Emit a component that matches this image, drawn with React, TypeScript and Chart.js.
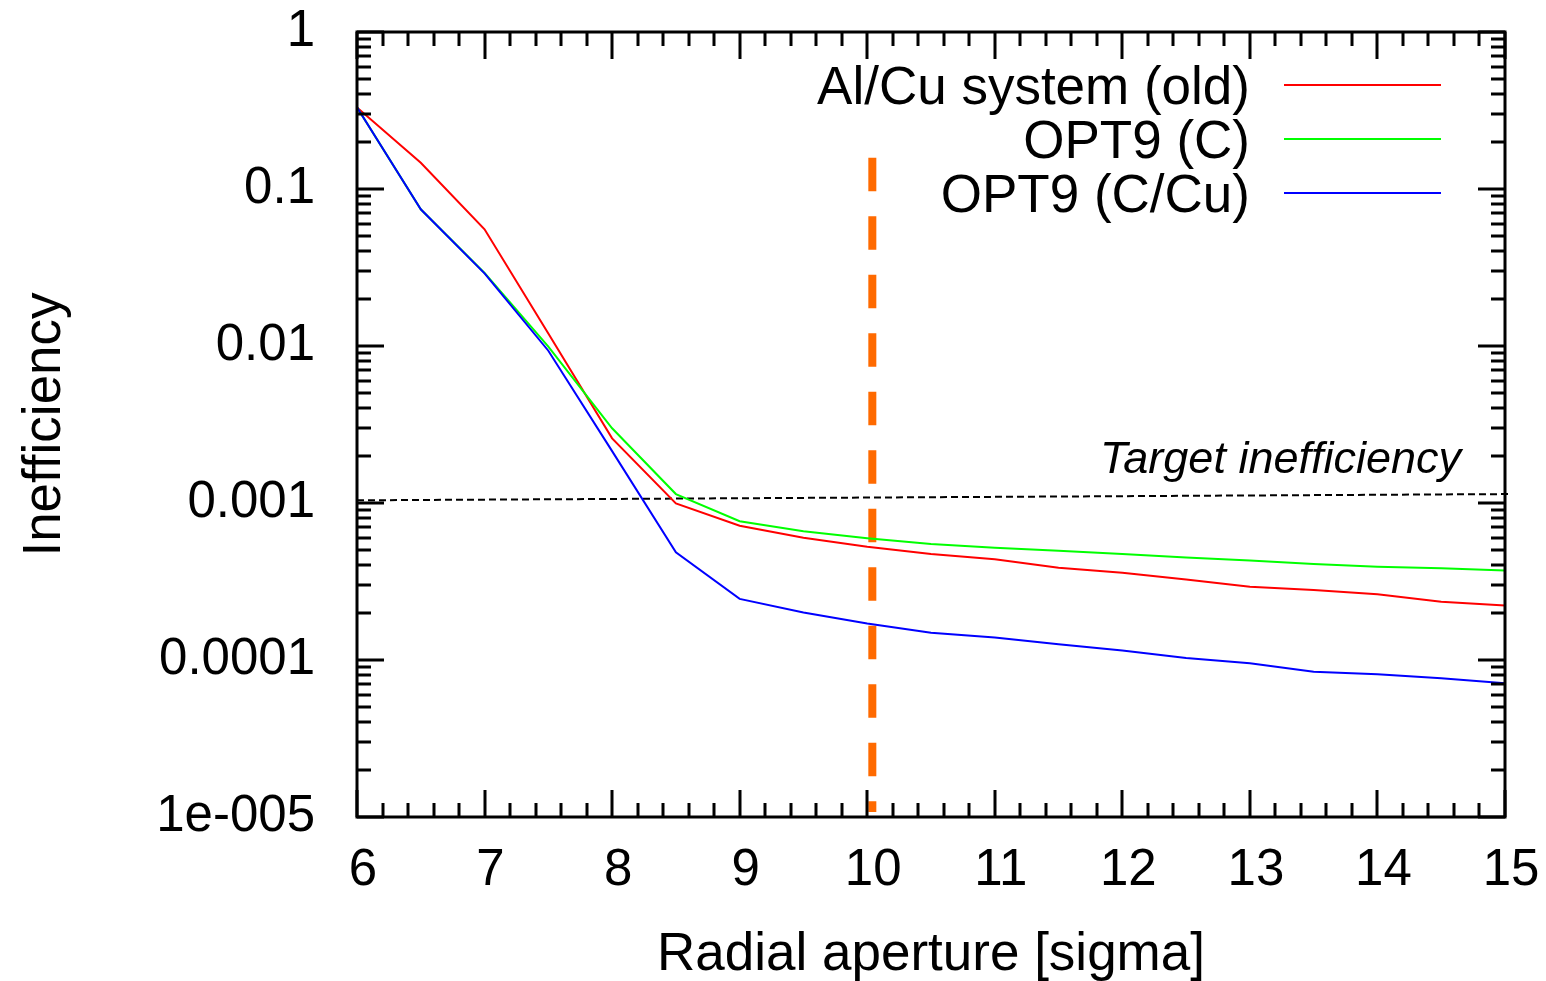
import React, { useEffect, useRef } from "react";
import { Chart, registerables } from "chart.js";

Chart.register(...registerables);

// ---------- data ----------
const radialAperture = [6, 6.5, 7, 7.5, 8, 8.5, 9, 9.5, 10, 10.5, 11, 11.5, 12, 12.5, 13, 13.5, 14, 14.5, 15];

const alCuOld = [0.331, 0.147, 0.0554, 0.012, 0.00258, 0.000995, 0.000717, 0.000601, 0.000527, 0.000473, 0.000438, 0.000387, 0.00036, 0.000326, 0.000293, 0.000279, 0.000262, 0.000235, 0.000222];
const opt9C = [0.331, 0.0743, 0.0292, 0.0099, 0.00299, 0.00114, 0.000765, 0.00066, 0.000596, 0.000548, 0.000519, 0.000497, 0.000473, 0.00045, 0.00043, 0.000409, 0.000393, 0.000384, 0.000371];
const opt9CCu = [0.331, 0.0743, 0.029, 0.00933, 0.00214, 0.000485, 0.000245, 0.000201, 0.000171, 0.000149, 0.000139, 0.000126, 0.000115, 0.000103, 0.0000953, 0.0000843, 0.0000811, 0.0000764, 0.0000711];

const seriesLabels = ["Al/Cu system (old)", "OPT9 (C)", "OPT9 (C/Cu)"];

// target inefficiency reference line (end points)
const targetX = [6, 15.03];
const targetY = [0.00104, 0.00114];
const targetLabel = "Target inefficiency";

// vertical aperture marker (end points, top first)
const apertureX = [10.04, 10.04];
const apertureY = [0.158, 1.076e-5];

// axes
const xTicks = [6, 7, 8, 9, 10, 11, 12, 13, 14, 15];
const yTickValues = [1, 0.1, 0.01, 0.001, 0.0001, 0.00001];
const yTickLabels = ["1", "0.1", "0.01", "0.001", "0.0001", "1e-005"];
const xTitle = "Radial aperture [sigma]";
const yTitle = "Inefficiency";

const FONT = '"Liberation Sans", Arial, Helvetica, sans-serif';
const COLORS = ["#ff0000", "#00ff00", "#0000ff"];

const framePlugin = {
  id: "gnuplotFrame",
  afterDatasetsDraw(chart: any) {
    const { ctx, chartArea: a, scales } = chart;
    const x = scales.x;
    const y = scales.y;
    ctx.save();
    ctx.strokeStyle = "#000";
    ctx.lineWidth = 3;
    ctx.lineCap = "butt";
    ctx.beginPath();
    // x ticks (major every 1, minor every 0.2), on bottom and top, inward
    for (let i = 0; i <= 45; i++) {
      const v = xTicks[0] + i * 0.2;
      const px = Math.round(x.getPixelForValue(v));
      const len = i % 5 === 0 ? 27 : 14;
      ctx.moveTo(px, a.bottom);
      ctx.lineTo(px, a.bottom - len);
      ctx.moveTo(px, a.top);
      ctx.lineTo(px, a.top + len);
    }
    // y ticks, log: major per decade, minor 2..9
    for (let e = -5; e <= 0; e++) {
      const d = Math.pow(10, e);
      const mults = e < 0 ? [1, 2, 3, 4, 5, 6, 7, 8, 9] : [1];
      for (const m of mults) {
        const py = Math.round(y.getPixelForValue(m * d));
        const len = m === 1 ? 27 : 14;
        ctx.moveTo(a.left, py);
        ctx.lineTo(a.left + len, py);
        ctx.moveTo(a.right, py);
        ctx.lineTo(a.right - len, py);
      }
    }
    ctx.stroke();
    ctx.lineWidth = 3;
    ctx.strokeRect(a.left, a.top, a.right - a.left, a.bottom - a.top);
    ctx.restore();
  },
  afterDraw(chart: any) {
    const { ctx, chartArea: a } = chart;
    ctx.save();
    // legend (top-right, text right-aligned, sample to the right)
    const fs = 53;
    ctx.font = `${fs}px ${FONT}`;
    ctx.textAlign = "right";
    ctx.textBaseline = "alphabetic";
    ctx.fillStyle = "#000";
    const rowY0 = a.top + 53;
    const rowGap = 54;
    const textRight = a.right - 255;
    for (let i = 0; i < 3; i++) {
      const ry = rowY0 + i * rowGap;
      ctx.fillText(chart.data.datasets[i].label, textRight, ry + 0.358 * fs);
      ctx.strokeStyle = COLORS[i];
      ctx.lineWidth = 2;
      ctx.beginPath();
      ctx.moveTo(textRight + 34, ry);
      ctx.lineTo(textRight + 191, ry);
      ctx.stroke();
    }
    // target label
    ctx.font = `italic 45px ${FONT}`;
    ctx.textAlign = "right";
    ctx.fillStyle = "#000";
    ctx.fillText(targetLabel, a.right - 44, 473);
    ctx.restore();
  },
};

export default function App() {
  const canvasRef = useRef<HTMLCanvasElement | null>(null);

  useEffect(() => {
    if (!canvasRef.current) return;
    const mk = (ys: number[]) => radialAperture.map((xv, i) => ({ x: xv, y: ys[i] }));
    const chart = new Chart(canvasRef.current, {
      type: "line",
      data: {
        datasets: [
          { label: seriesLabels[0], data: mk(alCuOld), borderColor: COLORS[0], borderWidth: 2, pointRadius: 0, tension: 0, order: 2 },
          { label: seriesLabels[1], data: mk(opt9C), borderColor: COLORS[1], borderWidth: 2, pointRadius: 0, tension: 0, order: 1 },
          { label: seriesLabels[2], data: mk(opt9CCu), borderColor: COLORS[2], borderWidth: 2, pointRadius: 0, tension: 0, order: 0 },
          {
            label: targetLabel,
            data: targetX.map((xv, i) => ({ x: xv, y: targetY[i] })),
            borderColor: "#000",
            borderWidth: 2,
            borderDash: [7, 4],
            pointRadius: 0,
            clip: false,
            order: 3,
          },
          {
            label: "aperture",
            data: apertureX.map((xv, i) => ({ x: xv, y: apertureY[i] })),
            borderColor: "#ff6a00",
            borderWidth: 8,
            borderDash: [33.5, 25],
            borderCapStyle: "butt",
            pointRadius: 0,
            order: 4,
          },
        ] as any,
      },
      options: {
        animation: false,
        responsive: true,
        maintainAspectRatio: false,
        layout: { padding: { top: 32, right: 41, left: 0, bottom: 0 } },
        plugins: { legend: { display: false }, tooltip: { enabled: false } },
        scales: {
          x: {
            type: "linear",
            min: 6,
            max: 15,
            afterFit: (s: any) => {
              s.height = 164;
              s.paddingLeft = 0;
              s.paddingRight = 0;
            },
            afterBuildTicks: (s: any) => {
              s.ticks = xTicks.map((v) => ({ value: v }));
            },
            grid: { display: false, drawTicks: false },
            border: { display: false },
            ticks: {
              autoSkip: false,
              maxRotation: 0,
              padding: 23,
              labelOffset: 6,
              color: "#000",
              font: { family: FONT, size: 51 },
              callback: (v: any) => String(v),
            },
            title: {
              display: true,
              text: xTitle,
              color: "#000",
              font: { family: FONT, size: 53, lineHeight: 1.2 },
              padding: { top: 0, bottom: -6 },
            },
          },
          y: {
            type: "logarithmic",
            min: 0.00001,
            max: 1,
            afterFit: (s: any) => {
              s.width = 357;
              s.paddingTop = 0;
              s.paddingBottom = 0;
            },
            afterBuildTicks: (s: any) => {
              s.ticks = yTickValues.map((v) => ({ value: v }));
            },
            grid: { display: false, drawTicks: false },
            border: { display: false },
            ticks: {
              autoSkip: false,
              padding: 42,
              color: "#000",
              font: { family: FONT, size: 51 },
              callback: (v: any) => {
                const idx = yTickValues.findIndex((t) => Math.abs(Math.log10(t) - Math.log10(v)) < 1e-6);
                return idx >= 0 ? yTickLabels[idx] : "";
              },
            },
            title: {
              display: true,
              text: yTitle,
              color: "#000",
              font: { family: FONT, size: 53, lineHeight: 1.2 },
              padding: { top: 14, bottom: 0 },
            },
          },
        },
      } as any,
      plugins: [framePlugin],
    });
    return () => chart.destroy();
  }, []);

  return (
    <div style={{ position: "fixed", left: 0, top: 0, width: 1546, height: 981, background: "#fff" }}>
      <canvas ref={canvasRef} />
    </div>
  );
}
